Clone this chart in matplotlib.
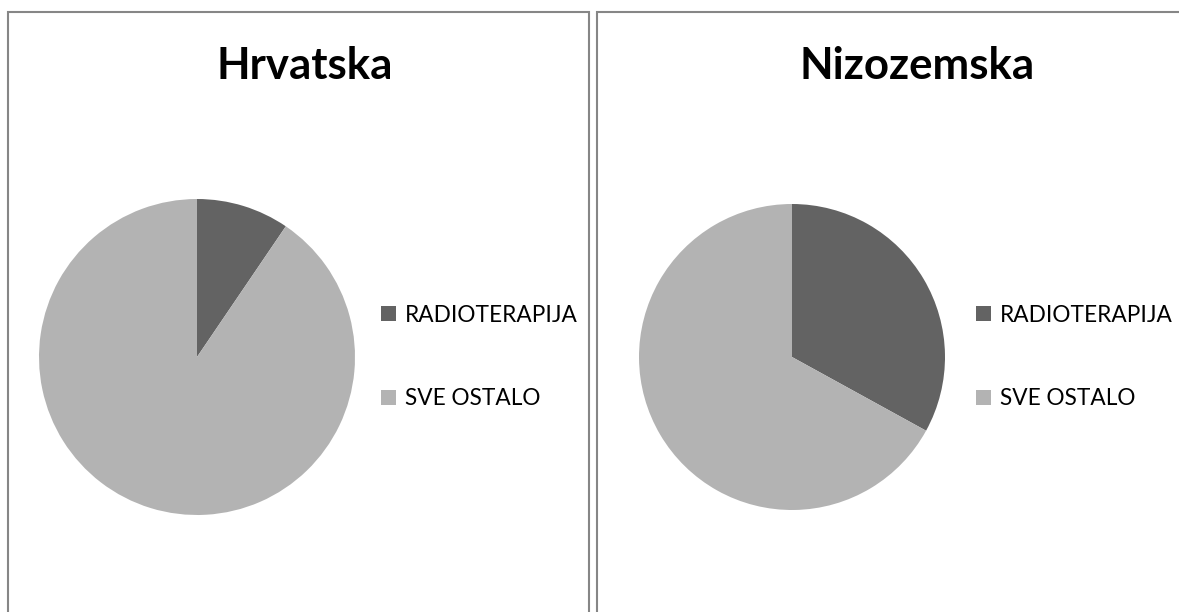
import matplotlib.pyplot as plt
from matplotlib.patches import Rectangle

# data
titles = ['Hrvatska', 'Nizozemska']
labels = ['RADIOTERAPIJA', 'SVE OSTALO']
hrvatska = [9.5, 90.5]
nizozemska = [33, 67]
colors = ['#636363', '#b3b3b3']

W, H = 1179, 612
fig = plt.figure(figsize=(W / 100, H / 100), dpi=100)
plt.rcParams['font.family'] = ['Lato', 'DejaVu Sans']

# panel frames (px): left, right edges
panels = [(8, 589), (597, 1185)]
for x0, x1 in panels:
    fig.add_artist(Rectangle((x0 / W, -0.05), (x1 - x0) / W, (H - 12) / H + 0.05,
                             transform=fig.transFigure, fill=False,
                             edgecolor='#868686', linewidth=1.5))

# pie centres and radii in px
pies = [((197, 357), 158, hrvatska), ((792, 357), 153, nizozemska)]
legend_x = [381, 976]
title_x = [305, 917]

for i, ((cx, cy), r, vals) in enumerate(pies):
    ax = fig.add_axes([(cx - r) / W, (H - cy - r) / H, 2 * r / W, 2 * r / H])
    wedges, _ = ax.pie(vals, colors=colors, startangle=90, counterclock=False,
                       radius=1.0, wedgeprops=dict(linewidth=0))
    ax.set_xlim(-1, 1)
    ax.set_ylim(-1, 1)
    ax.set_aspect('auto')
    ax.axis('off')
    fig.text(title_x[i] / W, 1 - 66 / H, titles[i], ha='center', va='center',
             fontsize=31.5, fontweight='bold')
    fig.legend(wedges, labels, loc='center left',
               bbox_to_anchor=(legend_x[i] / W, 1 - 357 / H),
               frameon=False, fontsize=16.3, handlelength=0.65, handleheight=0.65,
               handletextpad=0.4, labelspacing=2.78, borderpad=0, borderaxespad=0)

fig.savefig('out.png', dpi=100)
